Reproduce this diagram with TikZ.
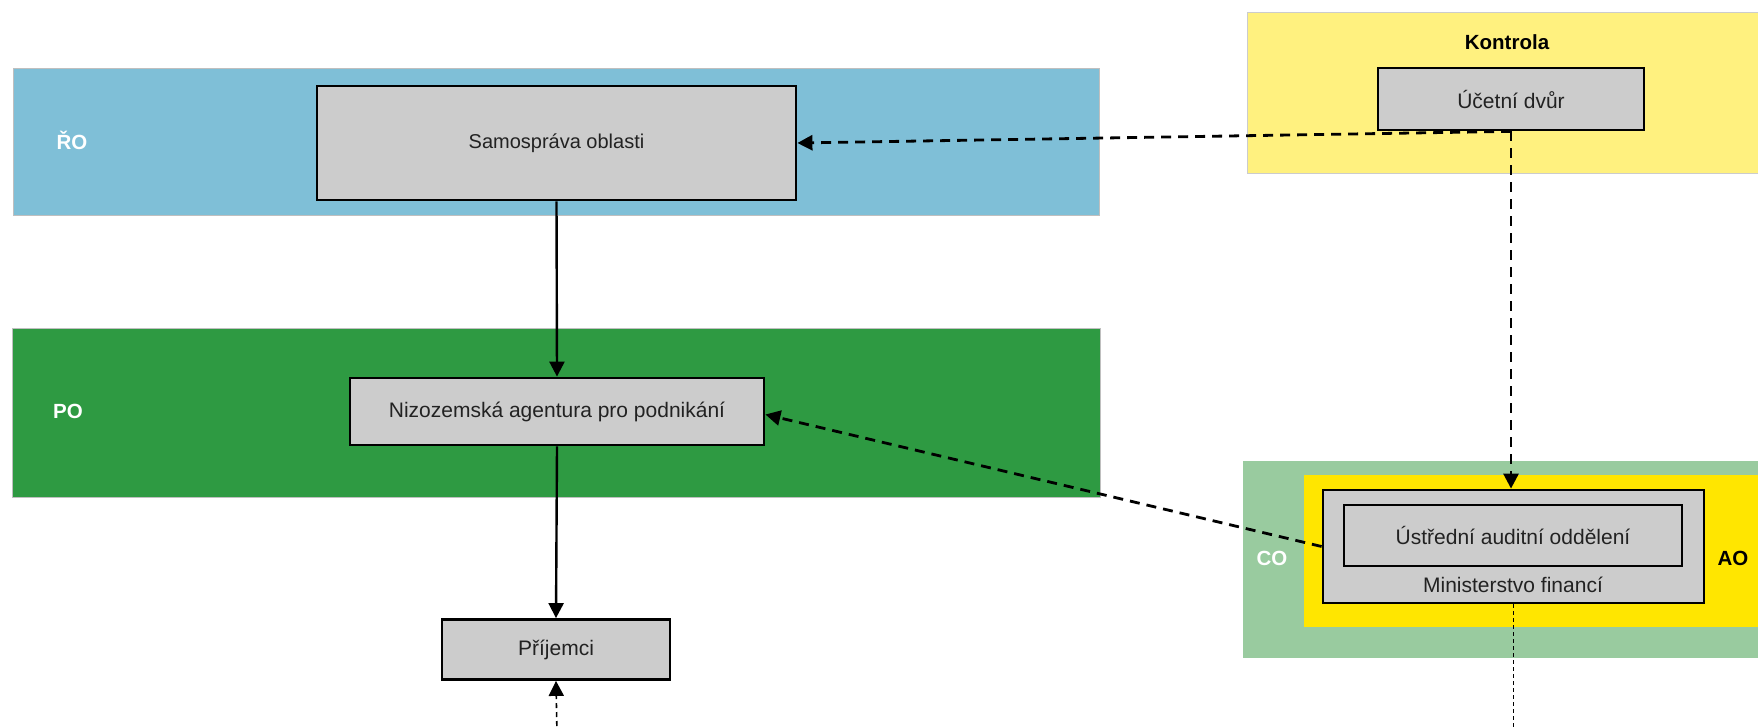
\documentclass[tikz,border=0pt]{standalone}
\usepackage{fontspec}
\setmainfont{Liberation Sans}
\usetikzlibrary{arrows.meta,calc}
\definecolor{roblue}{HTML}{7FBFD7}
\definecolor{pogreen}{HTML}{2E9A42}
\definecolor{colight}{HTML}{99CB9F}
\definecolor{aoyellow}{HTML}{FFE600}
\definecolor{kyellow}{HTML}{FFF17F}
\definecolor{boxgray}{HTML}{CCCCCC}
\definecolor{txtgray}{HTML}{222222}
\tikzset{
  band/.style={draw=black!25, line width=0.8pt, inner sep=0pt, outer sep=0pt},
  gbox/.style={draw=black, fill=boxgray, line width=2.8pt, inner sep=0pt, text=txtgray,
    font=\fontsize{21}{25}\selectfont},
  lbl/.style={font=\bfseries\fontsize{20.5}{24}\selectfont, inner sep=0pt},
  tip/.style={-{Triangle[length=15pt,width=15pt]}},
  flow/.style={line width=2.4pt, tip},
  dflow/.style={line width=2.8pt, dash pattern=on 10pt off 7pt, tip},
  fline/.style={line width=1.6pt, dash pattern=on 4pt off 3pt},
  fflow/.style={line width=1.6pt, dash pattern=on 5pt off 4pt, tip},
}
\begin{document}
\begin{tikzpicture}[x=1pt,y=-1pt]
\useasboundingbox (0,0) rectangle (1758,727);
\clip (0,0) rectangle (1758,727);
% background bands
\node[band, fill=roblue, minimum width=1086pt, minimum height=147pt] (roband) at (556,141.5) {};
\node[band, fill=pogreen, minimum width=1088pt, minimum height=169pt] (poband) at (556,412.5) {};
\node[band, fill=kyellow, draw=black!20, minimum width=530pt, minimum height=161pt, anchor=north west] (kband) at (1247,12) {};
\node[band, fill=colight, draw=none, minimum width=530pt, minimum height=197pt, anchor=north west] (coband) at (1243,461) {};
\node[band, fill=aoyellow, draw=none, minimum width=470pt, minimum height=152pt, anchor=north west] (aoband) at (1304,475) {};
% labels
\node[lbl, text=white] (rolbl) at (72,140) {ŘO};
\node[lbl, text=white] (polbl) at (68,411) {PO};
\node[lbl, text=white] (colbl) at (1272,558) {CO};
\node[lbl, text=black] (aolbl) at (1733,558) {AO};
\node[lbl, text=black] (klbl) at (1507,42) {Kontrola};
% boxes
\node[gbox, minimum width=479pt, minimum height=114pt, font=\fontsize{20}{24}\selectfont] (samo) at (556.5,143) {Samospráva oblasti};
\node[gbox, minimum width=414pt, minimum height=67pt] (nizo) at (557,411.5) {Nizozemská agentura pro podnikání};
\node[gbox, minimum width=228pt, minimum height=60pt] (prij) at (556,649.5) {Příjemci};
\node[gbox, minimum width=266pt, minimum height=62pt] (ucetni) at (1511,99) {Účetní dvůr};
\node[gbox, minimum width=381pt, minimum height=113pt] (ministry) at (1513.5,546.5) {};
\node[gbox, minimum width=338pt, minimum height=61pt] (ustr) at (1513,535.5) {Ústřední auditní oddělení};
\node[inner sep=0pt, text=txtgray, font=\fontsize{21}{25}\selectfont] (mflbl) at (1513,585) {Ministerstvo financí};
% connectors
\coordinate (prijin) at (557,735);
\coordinate (mfout) at (1513.5,735);
\draw[flow] (samo.south) -- (nizo.north);
\draw[flow] (nizo.south) -- (prij.north);
\draw[fflow] (prijin) -- (prij.south);
\draw[dflow] (ucetni.south) -- (samo.east);
\draw[dflow] (ucetni.south) -- (ucetni.south |- ministry.north);
\draw[dflow] (ministry.west) -- ($(nizo.east)+(0,3)$);
\draw[fline] (ministry.south) -- (mfout);
\end{tikzpicture}
\end{document}
